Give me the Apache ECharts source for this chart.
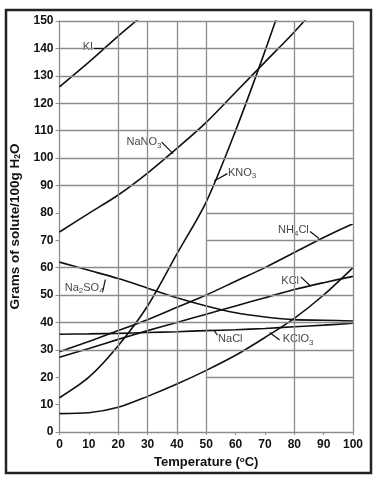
<!DOCTYPE html>
<html><head><meta charset="utf-8">
<script src="https://cdn.jsdelivr.net/npm/echarts@6/dist/echarts.min.js"></script>
<style>html,body{margin:0;padding:0;background:#fff}#c{width:382px;height:483px}</style>
</head><body><div id="c"></div>
<script>
const temps = [0,10,20,30,40,50,60,70,80,90,100];
const yTicks = [0,10,20,30,40,50,60,70,80,90,100,110,120,130,140,150];
const KI     = [126,135,144.5,153.5];
const NaNO3  = [73,79.8,86.5,94.5,103.5,113,124,135,146,158];
const KNO3   = [12.5,20,31.5,46,65,84,110,139,170];
const NH4Cl  = [29.3,33,37,41,45.5,50,55,60,65.5,71,76];
const KCl    = [27.3,30.5,33.8,37,40,43,46,49,52,54.5,56.8];
const Na2SO4 = [62,59,56,52.5,49,46,43.5,42,41,40.8,40.5];
const NaCl   = [35.7,35.8,36,36.3,36.6,37,37.3,37.8,38.4,39,39.7];
const KClO3  = [6.7,7,9,13,17.5,22.5,28,34.5,41.5,50,60];

const seriesDefs = [
  ['KI',KI],['NaNO3',NaNO3],['KNO3',KNO3],['NH4Cl',NH4Cl],['KCl',KCl],
  ['Na2SO4',Na2SO4],['NaCl',NaCl],['KClO3',KClO3]
];

// annotations: [rich text, label x, label y, leader from [x,y] to [x,y]]
const notes = [
  ['KI', 9.7, 140.5, [11.7,140.2],[15.3,140.2]],
  ['NaNO{s|3}', 28.8, 105.7, [34.8,105.8],[38.7,101.6]],
  ['KNO{s|3}', 62.2, 94.6, [57.2,94.3],[52.7,91.6]],
  ['NH{s|4}Cl', 79.7, 73.6, [85.4,73.2],[88.4,70.6]],
  ['KCl', 78.6, 55.2, [82.2,56.6],[85.6,53.2]],
  ['Na{s|2}SO{s|4}', 8.4, 52.6, [15.6,55.6],[14.8,51.6]],
  ['NaCl', 58.2, 33.8, [52.7,37.1],[53.8,35.3]],
  ['KClO{s|3}', 81.3, 33.8, [71.6,36.3],[75,33.6]]
];

const fullH = [30,40,50,60,90,100,110,120,130,140,150];
const partH = [20,70,80];
const vLines = [20,30,40,50,80,100];

const gridSegs = [];
fullH.forEach(v=>gridSegs.push([{coord:[0,v]},{coord:[100,v]}]));
partH.forEach(v=>gridSegs.push([{coord:[50,v]},{coord:[100,v]}]));
vLines.forEach(v=>gridSegs.push([{coord:[v,0]},{coord:[v,150]}]));

const series = [{
  type:'line', data:[], silent:true,
  markLine:{silent:true, symbol:'none', animation:false, label:{show:false},
    lineStyle:{color:'#8c8c8c', width:1.3, type:'solid'}, data:gridSegs}
}];
seriesDefs.forEach(([n,arr])=>{
  series.push({type:'line', name:n, data:arr.map((v,i)=>[temps[i],v]), smooth:0.3,
    showSymbol:false, symbol:'none', clip:true, animation:false,
    lineStyle:{color:'#111', width:1.6}});
});
const leaderSegs = notes.map(n=>[{coord:n[3]},{coord:n[4]}]);
series.push({
  type:'scatter', data:notes.map(n=>({value:[n[1],n[2]], label:{formatter:n[0]}})),
  symbolSize:0, silent:true, animation:false,
  label:{show:true, position:'inside', color:'#111', fontSize:11, lineHeight:14, fontFamily:'Liberation Sans, Arial, sans-serif',
    rich:{s:{fontSize:8, lineHeight:14, verticalAlign:'bottom', color:'#111'}}},
  markLine:{silent:true, symbol:'none', animation:false, label:{show:false},
    lineStyle:{color:'#111', width:1.2, type:'solid'}, data:leaderSegs}
});

const chart = echarts.init(document.getElementById('c'), null, {renderer:'canvas'});
chart.setOption({
  animation:false,
  backgroundColor:'#fff',
  grid:{left:54, top:21, right:29, bottom:51, containLabel:false},
  xAxis:{type:'value', min:0, max:100, interval:10,
    name:'{a|Temperature (}{o|o}{a|C)}', nameLocation:'middle', nameGap:24,
    nameTextStyle:{rich:{a:{fontSize:13, fontWeight:'bold', color:'#111', fontFamily:'Liberation Sans, Arial'},
      o:{fontSize:8, fontWeight:'bold', color:'#111', verticalAlign:'top', padding:[0,0,5,0]}}},
    axisLine:{lineStyle:{color:'#8c8c8c', width:1.3}},
    axisTick:{show:true, length:3, lineStyle:{color:'#8c8c8c'}},
    axisLabel:{color:'#111', fontWeight:'bold', fontSize:12, margin:7, fontFamily:'Liberation Sans, Arial'},
    splitLine:{show:false}},
  yAxis:{type:'value', min:0, max:150, interval:10,
    name:'{a|Grams of solute/100g H}{s|2}{a|O}', nameLocation:'middle', nameGap:37, nameRotate:90,
    nameTextStyle:{rich:{a:{fontSize:13.5, fontWeight:'bold', color:'#111', fontFamily:'Liberation Sans, Arial'},
      s:{fontSize:8.5, fontWeight:'bold', color:'#111', verticalAlign:'bottom', padding:[6,0,0,0]}}},
    axisLine:{show:true, lineStyle:{color:'#8c8c8c', width:1.3}},
    axisTick:{show:true, length:4, lineStyle:{color:'#8c8c8c'}},
    axisLabel:{color:'#111', fontWeight:'bold', fontSize:12, margin:6, fontFamily:'Liberation Sans, Arial',
      formatter:v=>yTicks.includes(v)?String(v):''},
    splitLine:{show:false}},
  graphic:[{type:'rect', shape:{x:6, y:10, width:365, height:463}, style:{fill:'none', stroke:'#222', lineWidth:2.5}, silent:true}],
  series:series
});
</script></body></html>
